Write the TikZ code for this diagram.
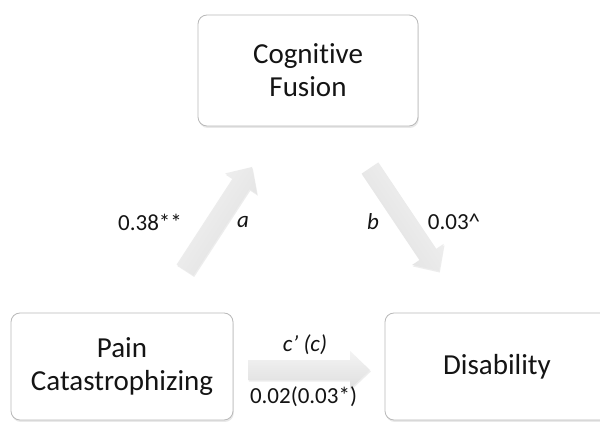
\documentclass[tikz,border=0pt]{standalone}
\usepackage{fontspec}
\setmainfont{Carlito}[Ligatures={NoCommon}]
\usetikzlibrary{calc,shadows}
\tikzset{
  box/.style={draw=gray!55, line width=0.8pt, rounded corners=9pt, fill=white,
    drop shadow={opacity=0.25, shadow xshift=0.8pt, shadow yshift=-2pt, fill=gray!70},
    font=\fontsize{29}{33}\selectfont, align=center, text=black!92, inner sep=0pt},
  lbl/.style={font=\fontsize{23}{27}\selectfont, text=black!92, inner sep=0pt},
  fatarrowstyle/.style={draw=none, top color=gray!9, bottom color=gray!25,
    drop shadow={opacity=0.2, shadow xshift=0.8pt, shadow yshift=-1.5pt, fill=gray!70}}
}
\newcommand\fatarrow[4]{% #1 tail, #2 tip, #3 shading angle, #4 name
  \coordinate (#4h) at ($(#2)!20pt!(#1)$);
  \path[fatarrowstyle, shading angle=#3]
    ($(#1)!10pt!90:(#2)$) -- ($(#4h)!10pt!90:(#2)$) -- ($(#4h)!19pt!90:(#2)$) --
    (#2) -- ($(#4h)!19pt!-90:(#2)$) -- ($(#4h)!10pt!-90:(#2)$) --
    ($(#1)!10pt!-90:(#2)$) -- cycle;}
\begin{document}
\begin{tikzpicture}[x=1pt,y=1pt]
  \useasboundingbox (0,0) rectangle (600,421);
  \clip (0,0) rectangle (600,421);
  \fill[white] (0,0) rectangle (600,421);

  \node[box, minimum width=220pt, minimum height=111pt] (cf) at (308,350.5) {Cognitive\\Fusion};
  \node[box, minimum width=222pt, minimum height=107pt] (pc) at (122,54.5) {Pain\\Catastrophizing};
  \node[box, minimum width=224pt, minimum height=107pt] (dis) at (497,54.5) {Disability};

  \coordinate (aT) at (185,151);
  \coordinate (aP) at (252,254);
  \coordinate (bT) at (370,253);
  \coordinate (bP) at (439,150);
  \coordinate (cT) at (248,51);
  \coordinate (cP) at (370,51);
  \fatarrow{aT}{aP}{57}{a}
  \fatarrow{bT}{bP}{-56}{b}
  \fatarrow{cT}{cP}{0}{c}

  \node[lbl] (la) at (150,199) {0.38**};
  \node[lbl] (lai) at (243,199) {\itshape a};
  \node[lbl] (lbi) at (373,199) {\itshape b};
  \node[lbl] (lb) at (454,199) {0.03\textasciicircum};
  \node[lbl] (lci) at (305,76) {\itshape c’ (c)};
  \node[lbl] (lc) at (303.5,24) {0.02(0.03*)};
\end{tikzpicture}
\end{document}
